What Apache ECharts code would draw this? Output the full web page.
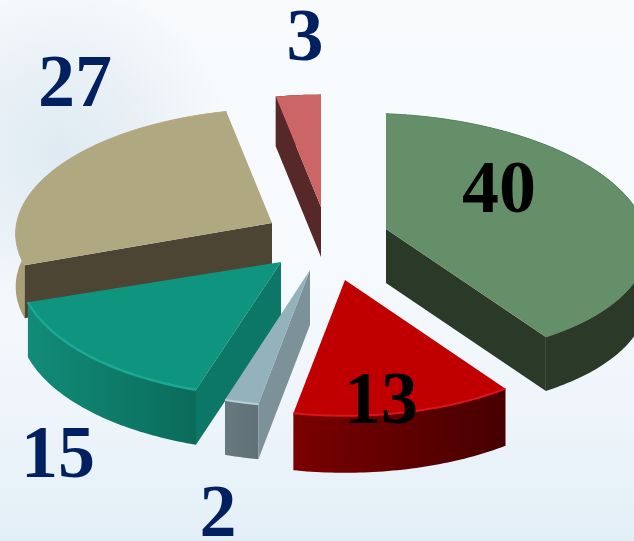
<!DOCTYPE html>
<html>

<head>
	<meta charset="utf-8">
	<script type="text/javascript" src="https://cdn.jsdelivr.net/npm/echarts@6/dist/echarts.min.js"></script>
	<style>
		html, body { margin: 0; padding: 0; overflow: hidden; }
	</style>
</head>

<body>
	<div id="main" style="width: 634px; height: 541px; position: absolute; left: 0; top: 0;"></div>

	<script type="text/javascript">

		// slices clockwise from 12 o'clock
		var values = [40, 13, 2, 15, 27, 3];

		// exploded position and shape of each slice
		var tipX = [386, 345, 310, 281, 272, 321];
		var tipY = [229, 280, 270, 262, 223, 207];
		var radiusX = [261, 262, 262, 262, 256, 253];
		var radiusY = [121, 129, 130, 128, 120, 118];
		var skew = [0.08, 0, 0, 0, -0.04, 0];
		var depth = [54, 57, 55, 55, 53, 50];
		var perspective = 0.05;

		// back slices paint first
		var drawOrder = [6, 5, 4, 3, 2, 1];

		var topColors = ['#658f69', '#c00000', '#93b2bb', '#0f9480', '#b0a881', '#cc6666'];
		var rimLeft = ['#2b3a28', '#7a0000', '#68797f', '#118c78', '#a99e76', '#562828'];
		var rimRight = ['#2b3a28', '#470000', '#5f7177', '#0b6b5a', '#a99e76', '#562828'];
		var rimLight = ['#5d8562', '#d6161c', '#b4d0d8', '#1ba894', '#b6ac85', '#cc6666'];
		var rimWidth = [1, 2, 2, 2.5, 1, 0];
		var cutColors = ['#2b3a28', null, '#7d9298', '#0c7766', '#4c4533', '#562828'];
		// which straight edge shows a wall: 'end' is the clockwise one
		var cutSide = ['end', null, 'start', 'start', 'start', 'start'];

		var labelX = [499, 381, 218, 58, 75, 305];
		var labelY = [193, 404, 517, 458, 87, 41];
		var labelColors = ['#000000', '#000000', '#00205f', '#00205f', '#00205f', '#00205f'];

		var total = values.reduce(function (a, b) { return a + b; }, 0);
		var running = 0;
		var pieData = values.map(function (v) {
			var start = running / total * 360;
			running += v;
			return [v, start, running / total * 360];
		});

		function rimPoint(i, deg, drop) {
			var a = deg * Math.PI / 180;
			var u = Math.sin(a), w = Math.cos(a);
			var s = 1 / (1 + perspective * w);
			return [
				tipX[i] + radiusX[i] * u * s,
				tipY[i] - radiusY[i] * w * s + skew[i] * u * s * radiusY[i] + drop
			];
		}

		function renderSlice(params, api) {
			var i = params.dataIndex;
			var start = api.value(1), end = api.value(2);
			var d = depth[i], z = drawOrder[i] * 10;
			var rim = [], rimLow = [];
			for (var deg = start; deg < end; deg += 1) {
				rim.push(rimPoint(i, deg, 0));
				rimLow.push(rimPoint(i, deg, d));
			}
			rim.push(rimPoint(i, end, 0));
			rimLow.push(rimPoint(i, end, d));

			var tip = [tipX[i], tipY[i]];
			var tipLow = [tipX[i], tipY[i] + d];
			var children = [];

			children.push({
				type: 'polygon',
				z2: z,
				shape: { points: rim.concat(rimLow.slice().reverse()) },
				style: {
					fill: {
						type: 'linear', x: 0, y: 0, x2: 1, y2: 0,
						colorStops: [{ offset: 0, color: rimLeft[i] }, { offset: 1, color: rimRight[i] }]
					}
				}
			});

			if (cutSide[i]) {
				var edge = cutSide[i] == 'start' ? rim[0] : rim[rim.length - 1];
				var edgeLow = cutSide[i] == 'start' ? rimLow[0] : rimLow[rimLow.length - 1];
				children.push({
					type: 'polygon',
					z2: z + 1,
					shape: { points: [tip, edge, edgeLow, tipLow] },
					style: { fill: cutColors[i] }
				});
			}

			children.push({
				type: 'polygon',
				z2: z + 2,
				shape: { points: [tip].concat(rim) },
				style: { fill: topColors[i] }
			});

			if (rimWidth[i] > 0) {
				children.push({
					type: 'polyline',
					z2: z + 3,
					shape: { points: rim },
					style: { fill: null, stroke: rimLight[i], lineWidth: rimWidth[i] }
				});
			}

			children.push({
				type: 'text',
				z2: 200,
				x: labelX[i],
				y: labelY[i],
				style: {
					text: String(api.value(0)),
					font: 'bold 74px "Liberation Serif"',
					fill: labelColors[i],
					align: 'center',
					verticalAlign: 'middle'
				}
			});

			return { type: 'group', children: children };
		}

		var chartPie = echarts.init(document.getElementById("main"));

		chartPie.setOption({
			animation: false,
			backgroundColor: '#f7fafd',
			graphic: [
				{
					type: 'rect', silent: true,
					shape: { x: 0, y: 0, width: 634, height: 541 },
					style: {
						fill: {
							type: 'linear', x: 0, y: 0, x2: 0, y2: 1,
							colorStops: [
								{ offset: 0, color: '#f8fafc' },
								{ offset: 0.5, color: '#f6fafd' },
								{ offset: 0.78, color: '#edf4fa' },
								{ offset: 1, color: '#e3eff7' }
							]
						}
					}
				},
				{
					type: 'ellipse', silent: true,
					shape: { cx: 60, cy: 150, rx: 300, ry: 170 },
					style: {
						fill: {
							type: 'radial', x: 0.5, y: 0.5, r: 0.5,
							colorStops: [
								{ offset: 0, color: 'rgba(218,231,240,0.85)' },
								{ offset: 0.55, color: 'rgba(218,231,240,0.45)' },
								{ offset: 1, color: 'rgba(218,231,240,0)' }
							]
						}
					}
				}
			],
			series: [{
				type: 'custom',
				coordinateSystem: 'none',
				silent: true,
				renderItem: renderSlice,
				data: pieData
			}]
		});

	</script>
</body>

</html>
